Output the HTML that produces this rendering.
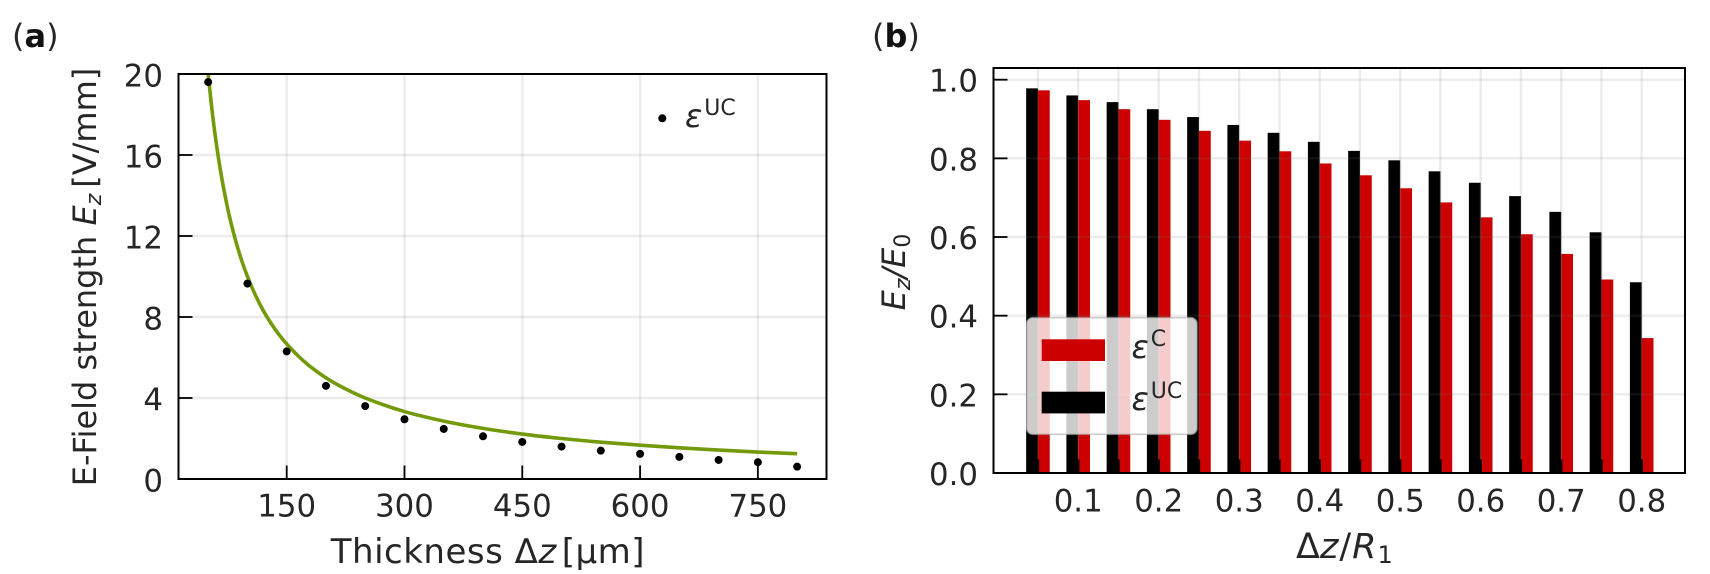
<!DOCTYPE html>
<html lang="en">
<head>
<meta charset="utf-8">
<title>E-field strength charts</title>
<style>
html,body{margin:0;padding:0;background:#fff;width:1710px;height:574px;overflow:hidden}
svg{display:block;filter:blur(0.35px)}
text{font-family:"DejaVu Sans","Liberation Sans",sans-serif;fill:#262626;font-size:32px}
.tick{font-size:30.8px}
.it{font-style:italic}
</style>
</head>
<body>
<svg id="fig" width="1710" height="574" viewBox="0 0 1710 574" xmlns="http://www.w3.org/2000/svg">
  <g id="a-grid"></g>
  <g id="a-marks"></g>
  <g id="a-axes"></g>
  <g id="b-bars"></g>
  <g id="b-grid"></g>
  <g id="b-axes"></g>

  <text x="12" y="47">(<tspan font-weight="bold" fill="#111">a</tspan>)</text>
  <text x="872" y="47">(<tspan font-weight="bold" fill="#111">b</tspan>)</text>

  <text x="645" y="563" text-anchor="end" style="font-size:34px;letter-spacing:0.5px">Thickness Δ<tspan class="it">z</tspan><tspan dx="5">[μm]</tspan></text>
  <text transform="translate(96,277) rotate(-90)" text-anchor="middle">E-Field strength <tspan class="it">E</tspan><tspan class="it" font-size="22px" dy="5">z</tspan><tspan dy="-5" dx="6">[V/mm]</tspan></text>
  <text x="1296" y="558" style="font-size:35px">Δ<tspan class="it">z</tspan><tspan dx="1">/</tspan><tspan class="it" dx="1">R</tspan><tspan font-size="24px" dy="5" dx="1">1</tspan></text>
  <text transform="translate(905,272) rotate(-90)" text-anchor="middle"><tspan class="it">E</tspan><tspan class="it" font-size="22px" dy="5">z</tspan><tspan class="it" dy="-5">/E</tspan><tspan font-size="22px" dy="5">0</tspan></text>

  <g>
    <circle cx="662.3" cy="118.3" r="4" fill="#000"></circle>
    <text x="685" y="127"><tspan class="it">ε</tspan><tspan font-size="22px" dy="-12" dx="2">UC</tspan></text>
  </g>

  <g>
    <rect x="1026.7" y="317.7" width="170.3" height="116.6" rx="6" ry="6" fill="#fff" fill-opacity="0.8" stroke="#aaa" stroke-opacity="0.6" stroke-width="1.6"></rect>
    <rect x="1041.7" y="339.3" width="63.3" height="21.7" fill="#cc0000"></rect>
    <rect x="1041.7" y="391.7" width="63.3" height="21.7" fill="#000"></rect>
    <text x="1131.5" y="358"><tspan class="it">ε</tspan><tspan font-size="22px" dy="-12" dx="2">C</tspan></text>
    <text x="1131.5" y="410"><tspan class="it">ε</tspan><tspan font-size="22px" dy="-12" dx="2">UC</tspan></text>
  </g>
</svg>
<script>
// Panel (a) data
const thicknessPoints = [50,100,150,200,250,300,350,400,450,500,550,600,650,700,750,800];
const fieldPoints = [19.6,9.65,6.3,4.6,3.6,2.95,2.47,2.11,1.83,1.6,1.4,1.24,1.09,0.94,0.83,0.61];
const thicknessCurve = [50,55,60,66,73,80,90,100,110,120,130,140,150,170,190,215,250,300,350,400,450,500,550,600,650,700,750,800];
const fieldCurve = [20,18.18,16.67,15.15,13.7,12.5,11.11,10,9.09,8.33,7.69,7.14,6.67,5.88,5.26,4.65,4,3.33,2.86,2.5,2.22,2,1.82,1.67,1.54,1.43,1.33,1.25];
const aXTicks = [150,300,450,600,750];
const aYTicks = [0,4,8,12,16,20];

// Panel (b) data
const ratioCategories = [0.05,0.1,0.15,0.2,0.25,0.3,0.35,0.4,0.45,0.5,0.55,0.6,0.65,0.7,0.75,0.8];
const uncoatedValues = [0.978,0.96,0.943,0.925,0.905,0.885,0.865,0.842,0.819,0.795,0.767,0.738,0.704,0.664,0.612,0.485];
const coatedValues = [0.973,0.948,0.925,0.898,0.87,0.845,0.818,0.787,0.757,0.724,0.688,0.65,0.607,0.557,0.492,0.343];
const bXLabels = [0.1,0.2,0.3,0.4,0.5,0.6,0.7,0.8];
const bYTicks = [0,0.2,0.4,0.6,0.8,1];

const SVGNS = 'http://www.w3.org/2000/svg';
function make(tag, parent, attrs){
  const el = document.createElementNS(SVGNS, tag);
  for (const k in attrs) el.setAttribute(k, attrs[k]);
  parent.appendChild(el);
  return el;
}
function smoothPath(pts){
  let d = 'M' + pts[0][0] + ' ' + pts[0][1];
  for (let i = 0; i < pts.length - 1; i++) {
    const p0 = pts[Math.max(i-1, 0)], p1 = pts[i], p2 = pts[i+1], p3 = pts[Math.min(i+2, pts.length-1)];
    d += ' C' + (p1[0]+(p2[0]-p0[0])/6) + ' ' + (p1[1]+(p2[1]-p0[1])/6) + ' ' +
         (p2[0]-(p3[0]-p1[0])/6) + ' ' + (p2[1]-(p3[1]-p1[1])/6) + ' ' + p2[0] + ' ' + p2[1];
  }
  return d;
}
const gridStyle = {stroke:'#777', 'stroke-opacity':0.14, 'stroke-width':2.4};

// Panel (a) scales and frame
const A = {l:178.5, r:826.5, t:74, b:479};
const ax = v => 168.9 + v * 0.7853;
const ay = v => A.b - v * 20.25;
const aGrid = document.getElementById('a-grid');
const aMarks = document.getElementById('a-marks');
const aAxes = document.getElementById('a-axes');

aXTicks.forEach(v => {
  const g = make('line', aGrid, Object.assign({x1:ax(v), x2:ax(v), y1:A.t, y2:A.b}, gridStyle));
  
  
  const t = make('line', aAxes, {x1:ax(v), x2:ax(v), y1:A.b, y2:A.b-13.5, stroke:'#000', 'stroke-width':1.8});
  
  
  const l = make('text', aAxes, {x:ax(v), y:516.5, 'text-anchor':'middle', class:'tick'});
  
  
  l.textContent = String(v);
});
aYTicks.forEach(v => {
  if (v > 0 && v < 20) {
    const g = make('line', aGrid, Object.assign({x1:A.l, x2:A.r, y1:ay(v), y2:ay(v)}, gridStyle));
    
    
    const t = make('line', aAxes, {x1:A.l, x2:A.l+14, y1:ay(v), y2:ay(v), stroke:'#000', 'stroke-width':1.8});
    
    
  }
  const l = make('text', aAxes, {x:163, y:ay(v)+12.5, 'text-anchor':'end', class:'tick'});
  
  
  l.textContent = String(v);
});

const curve = make('path', aMarks, {
  d: smoothPath(thicknessCurve.map((x, i) => [ax(x), ay(fieldCurve[i])])),
  fill:'none', stroke:'#739a0a', 'stroke-width':3.6, 'stroke-linejoin':'round'
});



thicknessPoints.forEach((x, i) => {
  const c = make('circle', aMarks, {cx:ax(x), cy:ay(fieldPoints[i]), r:4, fill:'#000'});
  
  
});

const aFrame = make('rect', aAxes, {x:A.l, y:A.t, width:A.r-A.l, height:A.b-A.t, fill:'none', stroke:'#000', 'stroke-width':2});



// Panel (b) scales and frame
const B = {l:993.5, r:1685, t:68, b:473};
const bx = v => 1641.7 + (v - 0.8) * 805;
const by = v => B.b - v * 393.3;
const barW = 11.8;
const bBars = document.getElementById('b-bars');
const bGridG = document.getElementById('b-grid');
const bAxes = document.getElementById('b-axes');

ratioCategories.forEach((v, i) => {
  const k = make('rect', bBars, {x:bx(v)-barW, y:by(uncoatedValues[i]), width:barW, height:by(0)-by(uncoatedValues[i]), fill:'#000'});
  
  
  const r = make('rect', bBars, {x:bx(v), y:by(coatedValues[i]), width:barW, height:by(0)-by(coatedValues[i]), fill:'#cc0000'});
  
  
  const g = make('line', bGridG, Object.assign({x1:bx(v), x2:bx(v), y1:B.t, y2:B.b}, gridStyle));
  
  
  const t = make('line', bAxes, {x1:bx(v), x2:bx(v), y1:B.b, y2:B.b-13.5, stroke:'#000', 'stroke-width':2.4});
  
  
});
bXLabels.forEach(v => {
  const l = make('text', bAxes, {x:bx(v), y:511.5, 'text-anchor':'middle', class:'tick'});
  
  
  l.textContent = v.toFixed(1);
});
bYTicks.forEach(v => {
  if (v > 0) {
    const g = make('line', bGridG, Object.assign({x1:B.l, x2:B.r, y1:by(v), y2:by(v)}, gridStyle));
    
    
    const t = make('line', bAxes, {x1:B.l, x2:B.l+14, y1:by(v), y2:by(v), stroke:'#000', 'stroke-width':1.8});
    
    
  }
  const l = make('text', bAxes, {x:978, y:by(v)+12, 'text-anchor':'end', class:'tick'});
  
  
  l.textContent = v.toFixed(1);
});
const bFrame = make('rect', bAxes, {x:B.l, y:B.t, width:B.r-B.l, height:B.b-B.t, fill:'none', stroke:'#000', 'stroke-width':2});


</script>
</body>
</html>
